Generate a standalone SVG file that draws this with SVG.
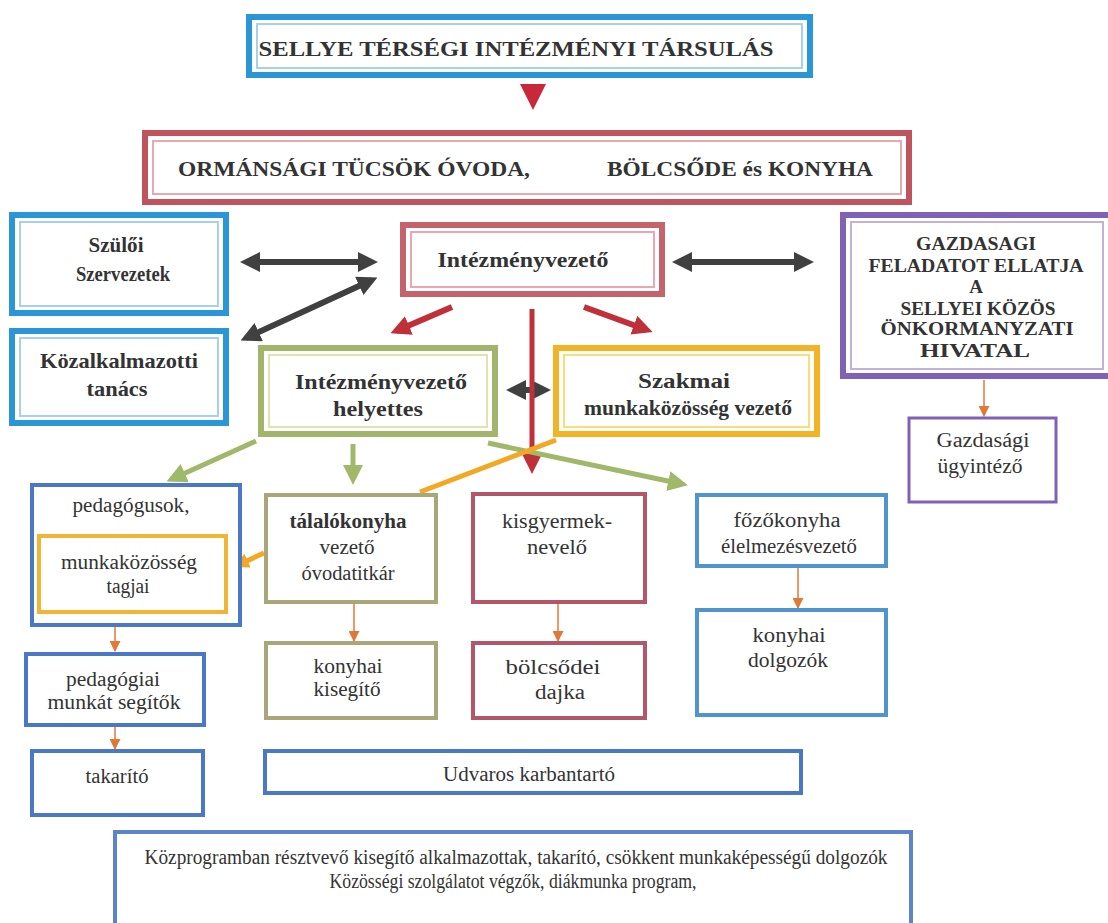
<svg xmlns="http://www.w3.org/2000/svg" width="1108" height="923" viewBox="0 0 1108 923">
<style>
text{font-family:"Liberation Serif","Times New Roman",serif;fill:#333;text-anchor:middle}
.b{font-weight:bold}
.t20{font-size:21px}
.t17{font-size:21px}
.t16{font-size:20px}
.g{font-size:19px}
.o{fill:#fff;stroke-width:6}
.i{fill:none;stroke-width:2}
.s{fill:#fff;stroke-width:4}
.blue{stroke:#2a96d6}.blueI{stroke:#a8d0ec}
.red{stroke:#c0545e}.redI{stroke:#eaa8ae}
.purp{stroke:#7f62b5}.purpI{stroke:#c0b2dc}
.grn{stroke:#a3b56a}.grnI{stroke:#dde4b0}
.yel{stroke:#f2b325}.yelI{stroke:#fadc80}
.rb{stroke:#4a78c4}.ol{stroke:#a9a67a}.rr{stroke:#b4566a}.st{stroke:#4f94cc}
.dk{stroke:#404040;stroke-width:6;fill:none}
.rd{stroke:#c0303a;stroke-width:6;fill:none}
.gr{stroke:#9fb86a;stroke-width:5;fill:none}
.or{stroke:#e07838;stroke-width:1.5;fill:none}
.ory{stroke:#f2a825;stroke-width:5;fill:none}
</style>
<defs>
<marker id="mdk" viewBox="0 0 20 20" markerWidth="20" markerHeight="20" refX="14" refY="10" orient="auto-start-reverse" markerUnits="userSpaceOnUse"><path d="M0,0 L20,10 L0,20 z" fill="#404040"/></marker>
<marker id="mrd" viewBox="0 0 20 20" markerWidth="20" markerHeight="20" refX="14" refY="10" orient="auto" markerUnits="userSpaceOnUse"><path d="M0,0 L20,10 L0,20 z" fill="#c0303a"/></marker>
<marker id="mgr" viewBox="0 0 20 20" markerWidth="20" markerHeight="20" refX="14" refY="10" orient="auto" markerUnits="userSpaceOnUse"><path d="M0,0 L20,10 L0,20 z" fill="#9fb86a"/></marker>
<marker id="mor" viewBox="0 0 10 10" markerWidth="11" markerHeight="11" refX="9" refY="5" orient="auto" markerUnits="userSpaceOnUse"><path d="M0,0 L10,5 L0,10 z" fill="#e07838"/></marker>
<marker id="mory" viewBox="0 0 10 10" markerWidth="15" markerHeight="15" refX="7" refY="5" orient="auto" markerUnits="userSpaceOnUse"><path d="M0,0 L10,5 L0,10 z" fill="#f2a825"/></marker>
</defs>

<g id="connectors">
<path d="M520,84 L533,110 L546,84 z" fill="#c8283a"/>
<line class="dk" x1="246" y1="262" x2="372" y2="262" marker-start="url(#mdk)" marker-end="url(#mdk)"/>
<line class="dk" x1="678" y1="262" x2="808" y2="262" marker-start="url(#mdk)" marker-end="url(#mdk)"/>
<line class="dk" x1="372" y1="280" x2="246" y2="338" marker-start="url(#mdk)" marker-end="url(#mdk)"/>
<line class="dk" x1="512" y1="390" x2="545" y2="390" marker-start="url(#mdk)" marker-end="url(#mdk)"/>
<line class="rd" x1="452" y1="307" x2="396" y2="331" marker-end="url(#mrd)"/>
<line class="rd" x1="584" y1="307" x2="647" y2="330" marker-end="url(#mrd)"/>
<line stroke="#c0303a" stroke-width="5" x1="532" y1="309" x2="532" y2="468" marker-end="url(#mrd)"/>
<line class="gr" x1="256" y1="441" x2="172" y2="479" marker-end="url(#mgr)"/>
<line class="gr" x1="353" y1="444" x2="353" y2="479" marker-end="url(#mgr)"/>
<line class="gr" x1="488" y1="443" x2="682" y2="484" marker-end="url(#mgr)"/>
<line class="ory" x1="556" y1="440" x2="420" y2="492"/>
<line class="ory" x1="264" y1="553" x2="238" y2="565" marker-end="url(#mory)"/>
<line class="or" x1="984" y1="380" x2="984" y2="416" marker-end="url(#mor)"/>
<line class="or" x1="115" y1="627" x2="115" y2="651" marker-end="url(#mor)"/>
<line class="or" x1="115" y1="727" x2="115" y2="749" marker-end="url(#mor)"/>
<line class="or" x1="354" y1="603" x2="354" y2="641" marker-end="url(#mor)"/>
<line class="or" x1="558" y1="603" x2="558" y2="641" marker-end="url(#mor)"/>
<line class="or" x1="798" y1="568" x2="798" y2="608" marker-end="url(#mor)"/>
</g>

<g id="n-tarsulas">
<rect class="o blue" x="249" y="17" width="561" height="58"/>
<rect class="i blueI" x="257" y="24" width="545" height="44"/>
<text class="b t20" x="516" y="56" textLength="515" lengthAdjust="spacingAndGlyphs">SELLYE TÉRSÉGI INTÉZMÉNYI TÁRSULÁS</text>
</g>

<g id="n-ovoda">
<rect class="o red" x="145" y="133" width="764" height="69"/>
<rect class="i redI" x="153" y="141" width="748" height="53"/>
<text class="b t20" x="354" y="176" textLength="352" lengthAdjust="spacingAndGlyphs">ORMÁNSÁGI TÜCSÖK ÓVODA,</text>
<text class="b t20" x="740" y="176" textLength="266" lengthAdjust="spacingAndGlyphs">BÖLCSŐDE és KONYHA</text>
</g>

<g id="n-szuloi">
<rect class="o blue" x="12" y="215" width="214" height="98"/>
<rect class="i blueI" x="20" y="222" width="198" height="84"/>
<text class="b t17" x="116" y="252" textLength="55" lengthAdjust="spacingAndGlyphs">Szülői</text>
<text class="b t17" x="123" y="281" textLength="94" lengthAdjust="spacingAndGlyphs">Szervezetek</text>
</g>

<g id="n-kozalk">
<rect class="o blue" x="12" y="331" width="214" height="92"/>
<rect class="i blueI" x="20" y="338" width="198" height="78"/>
<text class="b t17" x="119" y="368" textLength="158" lengthAdjust="spacingAndGlyphs">Közalkalmazotti</text>
<text class="b t17" x="117" y="396" textLength="61" lengthAdjust="spacingAndGlyphs">tanács</text>
</g>

<g id="n-intvez">
<rect class="o red" x="403" y="225" width="259" height="69" style="stroke:#c4636b"/>
<rect class="i redI" x="411" y="232" width="243" height="55"/>
<text class="b t17" x="523" y="267" textLength="171" lengthAdjust="spacingAndGlyphs">Intézményvezető</text>
</g>

<g id="n-gazd">
<rect class="o purp" x="843" y="215" width="268" height="161"/>
<rect class="i purpI" x="851" y="222" width="252" height="147"/>
<text class="b g" x="976" y="250" textLength="120" lengthAdjust="spacingAndGlyphs">GAZDASAGI</text>
<text class="b g" x="976" y="272" textLength="215" lengthAdjust="spacingAndGlyphs">FELADATOT ELLATJA</text>
<text class="b g" x="976" y="293">A</text>
<text class="b g" x="978" y="315" textLength="155" lengthAdjust="spacingAndGlyphs">SELLYEI KÖZÖS</text>
<text class="b g" x="977" y="335" textLength="193" lengthAdjust="spacingAndGlyphs">ÖNKORMANYZATI</text>
<text class="b g" x="975" y="357" textLength="110" lengthAdjust="spacingAndGlyphs">HIVATAL</text>
</g>

<g id="n-gazdugy">
<rect class="s purp" x="909" y="418" width="147" height="84" style="stroke-width:3"/>
<text class="t16" x="983" y="447" textLength="93" lengthAdjust="spacingAndGlyphs">Gazdasági</text>
<text class="t16" x="980" y="473" textLength="85" lengthAdjust="spacingAndGlyphs">ügyintéző</text>
</g>

<g id="n-helyettes">
<rect class="o grn" x="261" y="348" width="234" height="86"/>
<rect class="i grnI" x="269" y="355" width="218" height="72"/>
<text class="b t17" x="381" y="389" textLength="172" lengthAdjust="spacingAndGlyphs">Intézményvezető</text>
<text class="b t17" x="378" y="416" textLength="90" lengthAdjust="spacingAndGlyphs">helyettes</text>
</g>

<g id="n-szakmai">
<rect class="o yel" x="556" y="348" width="261" height="86"/>
<rect class="i yelI" x="564" y="355" width="245" height="72"/>
<text class="b t17" x="684" y="388" textLength="92" lengthAdjust="spacingAndGlyphs">Szakmai</text>
<text class="b t17" x="688" y="415" textLength="208" lengthAdjust="spacingAndGlyphs">munkaközösség vezető</text>
</g>

<g id="n-pedagogusok">
<rect class="s rb" x="32" y="485" width="208" height="140"/>
<text class="t16" x="131" y="512" textLength="117" lengthAdjust="spacingAndGlyphs">pedagógusok,</text>
</g>

<g id="n-munkakozosseg">
<rect class="s" x="39" y="536" width="187" height="76" style="stroke:#f0b535"/>
<text class="t16" x="129" y="569" textLength="136" lengthAdjust="spacingAndGlyphs">munkaközösség</text>
<text class="t16" x="128" y="593" textLength="43" lengthAdjust="spacingAndGlyphs">tagjai</text>
</g>

<g id="n-talalo">
<rect class="s ol" x="266" y="495" width="170" height="107"/>
<text class="t16 b" x="348" y="528" textLength="117" lengthAdjust="spacingAndGlyphs">tálalókonyha</text>
<text class="t16" x="347" y="554" textLength="55" lengthAdjust="spacingAndGlyphs">vezető</text>
<text class="t16" x="348" y="580" textLength="93" lengthAdjust="spacingAndGlyphs">óvodatitkár</text>
</g>

<g id="n-kisgyermek">
<rect class="s rr" x="473" y="494" width="172" height="108"/>
<text class="t16" x="557" y="528" textLength="110" lengthAdjust="spacingAndGlyphs">kisgyermek-</text>
<text class="t16" x="557" y="554" textLength="60" lengthAdjust="spacingAndGlyphs">nevelő</text>
</g>

<g id="n-fozo">
<rect class="s st" x="697" y="495" width="189" height="71"/>
<text class="t16" x="787" y="527" textLength="107" lengthAdjust="spacingAndGlyphs">főzőkonyha</text>
<text class="t16" x="789" y="553" textLength="136" lengthAdjust="spacingAndGlyphs">élelmezésvezető</text>
</g>

<g id="n-pedsegito">
<rect class="s rb" x="26" y="654" width="178" height="71"/>
<text class="t16" x="113" y="686" textLength="94" lengthAdjust="spacingAndGlyphs">pedagógiai</text>
<text class="t16" x="114" y="709" textLength="133" lengthAdjust="spacingAndGlyphs">munkát segítők</text>
</g>

<g id="n-konyhaikis">
<rect class="s ol" x="266" y="643" width="170" height="75"/>
<text class="t16" x="348" y="673" textLength="69" lengthAdjust="spacingAndGlyphs">konyhai</text>
<text class="t16" x="347" y="696" textLength="67" lengthAdjust="spacingAndGlyphs">kisegítő</text>
</g>

<g id="n-dajka">
<rect class="s rr" x="473" y="643" width="172" height="75"/>
<text class="t16" x="553" y="674" textLength="95" lengthAdjust="spacingAndGlyphs">bölcsődei</text>
<text class="t16" x="560" y="699" textLength="50" lengthAdjust="spacingAndGlyphs">dajka</text>
</g>

<g id="n-konyhaidolg">
<rect class="s st" x="697" y="610" width="189" height="105"/>
<text class="t16" x="789" y="642" textLength="73" lengthAdjust="spacingAndGlyphs">konyhai</text>
<text class="t16" x="788" y="667" textLength="80" lengthAdjust="spacingAndGlyphs">dolgozók</text>
</g>

<g id="n-takarito">
<rect class="s rb" x="32" y="751" width="171" height="64"/>
<text class="t16" x="117" y="783" textLength="63" lengthAdjust="spacingAndGlyphs">takarító</text>
</g>

<g id="n-udvaros">
<rect class="s rb" x="265" y="751" width="536" height="42"/>
<text class="t16" x="529" y="781" textLength="172" lengthAdjust="spacingAndGlyphs">Udvaros karbantartó</text>
</g>

<g id="n-kozprogram">
<rect class="s" x="115" y="832" width="796" height="100" style="stroke:#5b85c8"/>
<text class="t16" x="516" y="864" textLength="743" lengthAdjust="spacingAndGlyphs">Közprogramban résztvevő kisegítő alkalmazottak,  takarító, csökkent munkaképességű dolgozók</text>
<text class="t16" x="513" y="888" textLength="367" lengthAdjust="spacingAndGlyphs">Közösségi szolgálatot végzők, diákmunka program,</text>
</g>
</svg>
